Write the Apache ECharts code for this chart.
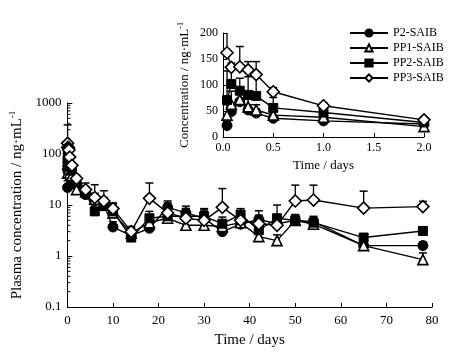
<!DOCTYPE html>
<html><head><meta charset="utf-8">
<script src="https://cdn.jsdelivr.net/npm/echarts@6/dist/echarts.min.js"></script>
<style>html,body{margin:0;padding:0;background:#fff}#c{width:472px;height:354px}</style>
</head><body><div id="c"></div>
<script>
const times = [0.04, 0.083, 0.167, 0.25, 0.33, 0.5, 1, 2, 4, 6, 8, 10, 14, 18, 22, 26, 30, 34, 38, 42, 46, 50, 54, 65, 78];
const seriesNames = ['P2-SAIB', 'PP1-SAIB', 'PP2-SAIB', 'PP3-SAIB'];
const p2Vals  = [22, 49, 68, 52, 46, 36, 31, 25, 16, 12, 10, 3.7, 2.5, 3.5, 9, 7, 5.5, 3, 4.2, 5.2, 4.3, 5, 4.7, 1.6, 1.6];
const p2Err   = [8, 15, 15, 10, 8, 5, 4, 4, 4, 3, 3, 1, 0.8, 1.5, 3, 2.5, 2, 1, 1.5, 2.5, 1.5, 1, 1, 0.3, 0.3];
const pp1Vals = [42, 63, 72, 58, 52, 42, 38, 20, 18, 13, 11, 7, 2.8, 4.5, 5.5, 4, 4, 3.8, 4.5, 2.4, 2, 5, 4.2, 1.6, 0.85];
const pp1Err  = [20, 25, 20, 15, 10, 6, 5, 4, 4, 4, 3, 2, 0.8, 1.5, 2, 1.5, 1.5, 1, 1.5, 0.8, 0.6, 1, 1, 0.3, 0.3];
const pp2Vals = [71, 102, 89, 81, 79, 56, 47, 28, 17, 7.5, 9.5, 7.5, 2.3, 5.5, 6, 6, 6, 4.3, 6.5, 3.2, 5.5, 5, 4.5, 2.3, 3.1];
const pp2Err  = [56, 30, 24, 35, 46, 20, 8, 5, 5, 3, 4, 3, 1, 2, 3, 2.5, 2.5, 1.5, 2, 1, 4.5, 1.5, 1.5, 0.4, 0.5];
const pp3Vals = [162, 134, 135, 129, 120, 87, 60, 33, 20, 14, 12, 8.5, 3, 13.5, 7, 5.5, 5, 9, 5, 4.3, 4, 12, 12.5, 8.7, 9.3];
const pp3Err  = [210, 8, 39, 16, 25, 8, 6, 5, 7, 11, 7, 2.5, 0.8, 13.5, 4, 3, 3, 12, 2, 2, 2, 12.5, 12, 10, 2.5];
const mainYTicks = [0.1, 1, 10, 100, 1000];
const insetXTicks = [0, 0.5, 1, 1.5, 2];
const insetYTicks = [0, 50, 100, 150, 200];
const insetCount = 8; // points with time <= 2 days

const FONT = 'Liberation Serif';
const vals = [p2Vals, pp1Vals, pp2Vals, pp3Vals];
const errs = [p2Err, pp1Err, pp2Err, pp3Err];
const styles = [
  {symbol: 'circle', symbolSize: 10, itemStyle: {color: '#000', borderColor: '#000', borderWidth: 1}},
  {symbol: 'triangle', symbolSize: 10, itemStyle: {color: '#fff', borderColor: '#000', borderWidth: 1.6}},
  {symbol: 'rect', symbolSize: 9, itemStyle: {color: '#000', borderColor: '#000', borderWidth: 1}},
  {symbol: 'diamond', symbolSize: 12, itemStyle: {color: '#fff', borderColor: '#000', borderWidth: 1.6}}
];

function errRender(params, api) {
  const x = api.value(0), y = api.value(1), e = api.value(2);
  const p1 = api.coord([x, y]);
  const p2 = api.coord([x, y + e]);
  return {type: 'group', children: [
    {type: 'line', shape: {x1: p1[0], y1: p1[1], x2: p2[0], y2: p2[1]}, style: {stroke: '#000', lineWidth: 1.3}},
    {type: 'line', shape: {x1: p2[0] - 4, y1: p2[1], x2: p2[0] + 4, y2: p2[1]}, style: {stroke: '#000', lineWidth: 1.5}}
  ]};
}

const minorVals = [];
for (let d = 0; d < mainYTicks.length - 1; d++) {
  for (let k = 2; k <= 9; k++) minorVals.push(mainYTicks[d] * k);
}

const series = [];
series.push({
  type: 'custom', xAxisIndex: 0, yAxisIndex: 0, silent: true, z: 1,
  data: minorVals.map(v => [0, v]),
  renderItem: function (params, api) {
    const p = api.coord([0, api.value(1)]);
    return {type: 'line', shape: {x1: p[0], y1: p[1], x2: p[0] + 3, y2: p[1]}, style: {stroke: '#000', lineWidth: 1}};
  }
});
for (let s = 0; s < 4; s++) {
  const full = times.map((t, i) => [t, vals[s][i]]);
  const fullErr = times.map((t, i) => [t, vals[s][i], errs[s][i]]);
  series.push({type: 'custom', xAxisIndex: 0, yAxisIndex: 0, z: 2, silent: true,
    data: fullErr, renderItem: errRender, encode: {x: 0, y: 1}});
  series.push({type: 'custom', xAxisIndex: 1, yAxisIndex: 1, z: 2, silent: true, clip: true,
    data: fullErr.slice(0, insetCount), renderItem: errRender, encode: {x: 0, y: 1}});
  series.push(Object.assign({name: seriesNames[s], type: 'line', xAxisIndex: 0, yAxisIndex: 0, z: 3 + s,
    data: full, lineStyle: {color: '#000', width: 1.4}}, styles[s]));
  series.push(Object.assign({name: seriesNames[s], type: 'line', xAxisIndex: 1, yAxisIndex: 1, z: 3 + s,
    data: full.slice(0, insetCount), lineStyle: {color: '#000', width: 1.4}}, styles[s]));
}

const axisLine = {show: true, lineStyle: {color: '#000', width: 1}};
const chart = echarts.init(document.getElementById('c'), null, {renderer: 'canvas'});
chart.setOption({
  animation: false,
  backgroundColor: '#fff',
  textStyle: {fontFamily: FONT, color: '#000'},
  legend: {
    data: seriesNames, orient: 'vertical', left: 344, top: 22, itemWidth: 38, itemHeight: 9, itemGap: 3,
    textStyle: {fontFamily: FONT, fontSize: 12, color: '#000'}, selectedMode: false
  },
  grid: [
    {left: 64, top: 103, width: 368, height: 204},
    {left: 223, top: 33, width: 201, height: 104}
  ],
  xAxis: [
    {gridIndex: 0, type: 'value', min: 0, max: 80, interval: 10,
     name: 'Time / days', nameLocation: 'middle', nameGap: 26,
     nameTextStyle: {fontFamily: FONT, fontSize: 15, color: '#000'},
     axisLine: axisLine, axisTick: {show: true, inside: true, length: 4, lineStyle: {color: '#000'}},
     axisLabel: {fontFamily: FONT, fontSize: 13, color: '#000', margin: 7}, splitLine: {show: false}},
    {gridIndex: 1, type: 'value', min: insetXTicks[0], max: insetXTicks[insetXTicks.length - 1], interval: 0.5,
     name: 'Time / days', nameLocation: 'middle', nameGap: 22,
     nameTextStyle: {fontFamily: FONT, fontSize: 13, color: '#000'},
     axisLine: axisLine, axisTick: {show: true, inside: true, length: 4, lineStyle: {color: '#000'}},
     axisLabel: {fontFamily: FONT, fontSize: 12, color: '#000', margin: 5, formatter: v => v.toFixed(1)}, splitLine: {show: false}}
  ],
  yAxis: [
    {gridIndex: 0, type: 'log', logBase: 10, min: mainYTicks[0], max: mainYTicks[mainYTicks.length - 1],
     name: '{a|Plasma concentration / ng·mL}{s|-1}', nameLocation: 'middle', nameGap: 35,
     nameTextStyle: {fontFamily: FONT, fontSize: 15, color: '#000',
       rich: {a: {fontFamily: FONT, fontSize: 15, color: '#000'}, s: {fontFamily: FONT, fontSize: 9, color: '#000', padding: [0, 0, 9, 0]}}},
     axisLine: axisLine, axisTick: {show: true, inside: true, length: 5, lineStyle: {color: '#000'}},
     axisLabel: {fontFamily: FONT, fontSize: 13, color: '#000', margin: 6, formatter: v => String(v)}, splitLine: {show: false}},
    {gridIndex: 1, type: 'value', min: insetYTicks[0], max: insetYTicks[insetYTicks.length - 1], interval: 50,
     name: '{a|Concentration / ng·mL}{s|-1}', nameLocation: 'middle', nameGap: 30,
     nameTextStyle: {fontFamily: FONT, fontSize: 13, color: '#000',
       rich: {a: {fontFamily: FONT, fontSize: 13, color: '#000'}, s: {fontFamily: FONT, fontSize: 8, color: '#000', padding: [0, 0, 8, 0]}}},
     axisLine: axisLine, axisTick: {show: true, inside: true, length: 4, lineStyle: {color: '#000'}},
     axisLabel: {fontFamily: FONT, fontSize: 12, color: '#000', margin: 5}, splitLine: {show: false}}
  ],
  series: series
});
</script></body></html>
